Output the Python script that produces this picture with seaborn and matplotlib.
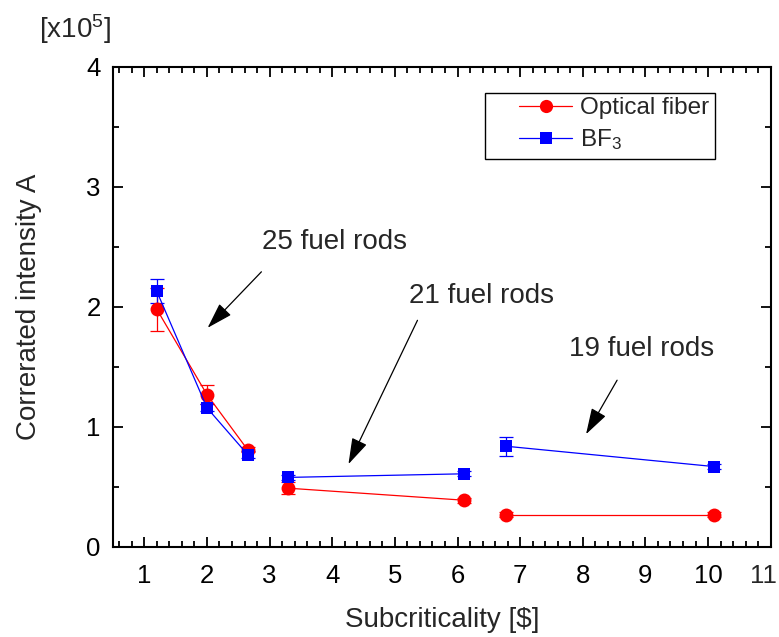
import numpy as np
import pandas as pd
import matplotlib
matplotlib.use("Agg")
import matplotlib.pyplot as plt
from matplotlib.lines import Line2D
from matplotlib.patches import Rectangle
from matplotlib.ticker import MultipleLocator, FuncFormatter
import seaborn as sns

# ---- data (values in units of 1e5) ----
subcrit = [1.2, 2.0, 2.65, 3.3, 6.1, 6.77, 10.1]
groups = ["25", "25", "25", "21", "21", "19", "19"]
optical = [1.98, 1.27, 0.81, 0.49, 0.39, 0.27, 0.27]
optical_err = [0.18, 0.08, 0.02, 0.05, 0.02, 0.02, 0.02]
bf3 = [2.13, 1.16, 0.77, 0.58, 0.61, 0.84, 0.67]
bf3_err = [0.10, 0.03, 0.03, 0.02, 0.02, 0.08, 0.02]
series_names = ["Optical fiber", "BF$_3$"]
annotations = ["25 fuel rods", "21 fuel rods", "19 fuel rods"]

sns.set_theme(style="ticks")
plt.rcParams["font.family"] = ["Liberation Sans", "DejaVu Sans"]
plt.rcParams["mathtext.fontset"] = "custom"
plt.rcParams["mathtext.rm"] = "Liberation Sans"
plt.rcParams["mathtext.it"] = "Liberation Sans:italic"

df = pd.DataFrame({
    "x": subcrit * 2,
    "y": optical + bf3,
    "err": optical_err + bf3_err,
    "series": [series_names[0]] * len(subcrit) + [series_names[1]] * len(subcrit),
    "group": groups * 2,
})

fig = plt.figure(figsize=(7.79, 6.37), dpi=100)
ax = fig.add_axes([113 / 779, 90 / 637, 657.7 / 779, 480 / 637])

colors = {series_names[0]: "#ff0000", series_names[1]: "#0000ff"}
markers = {series_names[0]: "o", series_names[1]: "s"}
sizes = {series_names[0]: 10, series_names[1]: 8.5}

for name in series_names:
    sub = df[df["series"] == name]
    ax.errorbar(sub["x"], sub["y"], yerr=sub["err"], fmt="none",
                ecolor=colors[name], elinewidth=0.9, capsize=5, capthick=0.9, zorder=2)
    sns.lineplot(data=sub, x="x", y="y", units="group", estimator=None,
                 color=colors[name], marker=markers[name], markersize=sizes[name],
                 markeredgewidth=0, linewidth=0.9, ax=ax, zorder=3, legend=False)

ax.set_xlim(0.5, 11)
ax.set_ylim(0, 4)
ax.xaxis.set_major_locator(MultipleLocator(1))
ax.xaxis.set_minor_locator(MultipleLocator(0.2))
ax.yaxis.set_major_locator(MultipleLocator(1))
ax.yaxis.set_minor_locator(MultipleLocator(0.5))
# the last x label ("11") is drawn separately, nudged left to stay inside the picture
ax.xaxis.set_major_formatter(FuncFormatter(lambda v, p: "" if v > 10.5 else f"{v:.0f}"))
ax.tick_params(which="both", direction="in", top=True, right=True, width=1.3, colors="black")
ax.tick_params(which="major", length=7, labelsize=18.5)
ax.tick_params(which="minor", length=4)
ax.tick_params(axis="x", which="major", pad=12)
ax.tick_params(axis="y", which="major", pad=9)
for sp in ax.spines.values():
    sp.set_linewidth(1.5)
    sp.set_color("black")
ax.annotate("11", xy=(11, 0), xycoords=("data", "axes fraction"),
            xytext=(-5, -12), textcoords="offset points",
            ha="center", va="top", fontsize=18.5, annotation_clip=False)

ax.set_xlabel("Subcriticality [$]", fontsize=20, labelpad=14)
ax.set_ylabel("Correrated intensity A", fontsize=20, labelpad=32)
fig.text(0.05, 0.955, "[x10$^5$]", fontsize=20, ha="left", va="center")

arrow_kw = dict(arrowstyle="-|>,head_length=0.9,head_width=0.28", color="black", lw=0.9,
                mutation_scale=18)
ax.annotate("", xy=(1.98, 1.81), xytext=(2.9, 2.31), arrowprops=arrow_kw)
ax.text(4.04, 2.54, annotations[0], fontsize=20, ha="center", va="center")
ax.annotate("", xy=(4.24, 0.67), xytext=(5.38, 1.91), arrowprops=arrow_kw)
ax.text(6.39, 2.09, annotations[1], fontsize=20, ha="center", va="center")
ax.annotate("", xy=(8.03, 0.92), xytext=(8.57, 1.41), arrowprops=arrow_kw)
ax.text(8.94, 1.65, annotations[2], fontsize=20, ha="center", va="center")

# legend frame drawn separately (the reference has a wide left margin)
ax.add_patch(Rectangle((0.5656, 0.8083), 0.9153 - 0.5656, 0.9458 - 0.8083,
                       transform=ax.transAxes, facecolor="white", edgecolor="black",
                       linewidth=1.0, zorder=4))
handles = [Line2D([0], [0], color=colors[n], marker=markers[n], markersize=sizes[n] - 0.5,
                  markeredgewidth=0, linewidth=0.9) for n in series_names]
leg = ax.legend(handles, series_names, loc="upper left",
                bbox_to_anchor=((519 - 113) / 657.7, (547 - 97) / 480),
                fontsize=17.5, frameon=False, borderpad=0, borderaxespad=0,
                handlelength=2.2, handletextpad=0.3, labelspacing=0.33)
leg.set_zorder(5)

fig.savefig("out.png", dpi=100)
